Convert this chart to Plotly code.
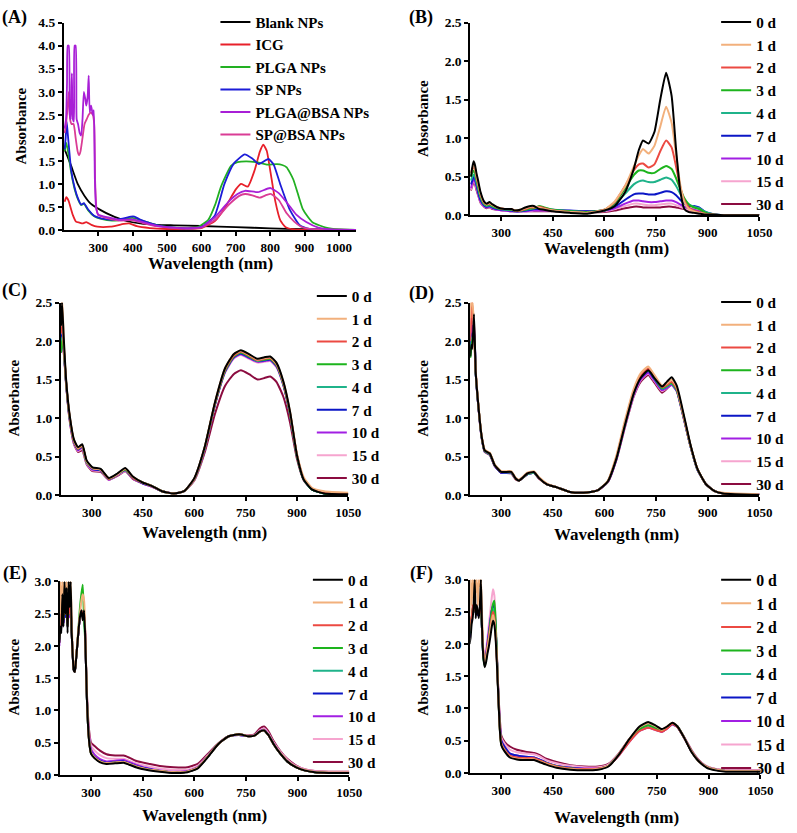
import plotly.graph_objects as go

W, H = 797, 833
FONT = "Liberation Serif, Times New Roman, serif"


def px(X):
    return X / W


def py(Y):
    return 1 - Y / H


# ---------------- Panel A data ----------------
A_names = ["Blank NPs", "ICG", "PLGA NPs", "SP NPs", "PLGA@BSA NPs", "SP@BSA NPs"]
A_colors = ["#000000", "#E8202A", "#22B022", "#1C1CD8", "#A81FD6", "#DA3C95"]

A_blank_wl = [202, 210, 221, 240, 259, 278, 307, 336, 374, 422, 470, 520, 600, 700, 800, 900, 1000, 1050]
A_blank = [1.75, 1.60, 1.39, 1.00, 0.75, 0.57, 0.43, 0.32, 0.21, 0.14, 0.11, 0.10, 0.085, 0.06, 0.035, 0.015, 0.005, 0.0]

A_icg_wl = [202, 207, 213, 226, 235, 245, 254, 265, 280, 297, 335, 374, 390, 412, 450, 500, 550, 600, 640, 670,
            700, 715, 735, 755, 770, 780, 790, 800, 815, 830, 845, 870, 900, 1050]
A_icg = [0.61, 0.71, 0.64, 0.32, 0.18, 0.16, 0.14, 0.17, 0.11, 0.07, 0.07, 0.13, 0.14, 0.08, 0.04, 0.02, 0.02, 0.04, 0.20, 0.50,
         0.88, 1.00, 0.94, 1.30, 1.70, 1.85, 1.72, 1.30, 0.62, 0.20, 0.06, 0.01, 0.0, 0.0]

A_plga_wl = [202, 207, 214, 221, 231, 240, 250, 258, 270, 289, 308, 340, 366, 400, 420, 450, 480, 520, 560, 590,
             620, 640, 657, 686, 705, 730, 760, 790, 820, 835, 848, 867, 880, 895, 910, 924, 962, 1000, 1050]
A_plga = [1.71, 1.89, 1.60, 1.25, 0.89, 0.68, 0.54, 0.57, 0.43, 0.29, 0.24, 0.20, 0.22, 0.26, 0.22, 0.15, 0.09, 0.05, 0.04, 0.06,
          0.22, 0.55, 0.94, 1.39, 1.47, 1.49, 1.47, 1.42, 1.43, 1.41, 1.36, 1.10, 0.80, 0.45, 0.28, 0.16, 0.05, 0.01, 0.0]

A_sp_wl = [202, 205, 208, 211, 214, 221, 231, 240, 250, 258, 270, 289, 308, 340, 366, 395, 405, 420, 450, 480,
           520, 560, 600, 638, 667, 695, 726, 748, 767, 795, 810, 829, 857, 886, 914, 950, 1050]
A_sp = [1.75, 2.00, 2.35, 2.10, 1.85, 1.30, 0.92, 0.70, 0.55, 0.58, 0.45, 0.30, 0.25, 0.22, 0.24, 0.29, 0.29, 0.23, 0.15, 0.09,
        0.05, 0.03, 0.06, 0.30, 1.00, 1.45, 1.64, 1.55, 1.43, 1.54, 1.42, 1.00, 0.44, 0.10, 0.02, 0.0, 0.0]

A_plgabsa_wl = [202, 206, 209, 211, 214, 217, 220, 223, 226, 229, 231, 234, 237, 241, 246, 250, 254, 258, 262, 265,
                269, 272, 275, 279, 284, 287, 290, 294, 300, 330, 360, 400, 430, 470, 520, 570, 600, 640, 680, 705,
                727, 765, 800, 825, 850, 876, 905, 940, 980, 1050]
A_plgabsa = [2.20, 2.40, 3.20, 4.00, 4.00, 2.50, 2.40, 3.40, 2.40, 2.35, 4.00, 4.00, 2.40, 2.30, 2.10, 2.05, 2.40, 3.00, 2.85, 2.70,
             2.90, 3.35, 2.56, 2.70, 2.50, 2.60, 1.10, 0.45, 0.33, 0.27, 0.22, 0.23, 0.17, 0.09, 0.05, 0.04, 0.06, 0.28, 0.62, 0.78,
             0.85, 0.82, 0.91, 0.80, 0.58, 0.33, 0.17, 0.05, 0.01, 0.0]

A_spbsa_wl = [202, 206, 210, 214, 218, 222, 228, 234, 240, 244, 248, 254, 260, 266, 272, 278, 284, 288, 291, 295,
              300, 330, 360, 400, 430, 470, 520, 570, 600, 640, 680, 710, 727, 748, 770, 790, 803, 825, 848, 870,
              890, 910, 950, 1050]
A_spbsa = [2.10, 2.30, 2.60, 3.00, 2.40, 2.30, 2.30, 2.00, 1.70, 1.62, 1.70, 2.00, 2.30, 2.40, 2.50, 2.55, 2.50, 2.30, 1.00, 0.45,
           0.32, 0.25, 0.20, 0.21, 0.15, 0.08, 0.04, 0.03, 0.05, 0.22, 0.55, 0.74, 0.78, 0.75, 0.70, 0.76, 0.78, 0.65, 0.36, 0.18,
           0.07, 0.03, 0.01, 0.0]

# ---------------- Day series (panels B-F) ----------------
DAYS = ["0 d", "1 d", "2 d", "3 d", "4 d", "7 d", "10 d", "15 d", "30 d"]
DAY_COLORS = ["#000000", "#F2B07C", "#EC4A42", "#1DB41D", "#1FB38A", "#0B16C6", "#A21FE3", "#F6A5CF", "#8B0C40"]

B_wl = [212, 216, 220, 224, 228, 233, 240, 250, 258, 266, 275, 290, 310, 330, 340, 355, 370, 385, 395, 410,
        425, 450, 500, 550, 600, 630, 660, 685, 700, 712, 728, 745, 762, 779, 795, 808, 820, 832, 845, 860,
        875, 890, 910, 950, 1050]
B_0d = [0.50, 0.62, 0.70, 0.65, 0.55, 0.45, 0.30, 0.18, 0.15, 0.17, 0.14, 0.10, 0.08, 0.08, 0.06, 0.07, 0.10, 0.12, 0.12, 0.08,
        0.07, 0.05, 0.03, 0.02, 0.06, 0.12, 0.30, 0.60, 0.85, 0.97, 0.93, 1.08, 1.50, 1.85, 1.55, 0.85, 0.32, 0.08, 0.04, 0.03,
        0.02, 0.01, 0.01, 0.00, 0.00]
B_1d = [0.55, 0.60, 0.65, 0.62, 0.52, 0.42, 0.28, 0.17, 0.14, 0.16, 0.13, 0.10, 0.08, 0.08, 0.06, 0.07, 0.09, 0.11, 0.11, 0.10,
        0.08, 0.06, 0.04, 0.03, 0.07, 0.18, 0.38, 0.63, 0.78, 0.86, 0.80, 0.90, 1.15, 1.41, 1.20, 0.78, 0.40, 0.17, 0.08, 0.05,
        0.03, 0.02, 0.01, 0.00, 0.00]
B_2d = [0.55, 0.60, 0.62, 0.60, 0.50, 0.40, 0.27, 0.16, 0.14, 0.15, 0.13, 0.10, 0.08, 0.08, 0.06, 0.06, 0.08, 0.10, 0.10, 0.11,
        0.09, 0.06, 0.04, 0.03, 0.07, 0.17, 0.38, 0.58, 0.66, 0.67, 0.62, 0.66, 0.83, 0.97, 0.88, 0.63, 0.37, 0.19, 0.10, 0.06,
        0.04, 0.02, 0.01, 0.00, 0.00]
B_3d = [0.50, 0.55, 0.58, 0.55, 0.47, 0.37, 0.25, 0.15, 0.13, 0.14, 0.12, 0.09, 0.08, 0.07, 0.06, 0.06, 0.07, 0.09, 0.09, 0.12,
        0.10, 0.07, 0.05, 0.04, 0.07, 0.16, 0.35, 0.52, 0.58, 0.58, 0.55, 0.55, 0.60, 0.64, 0.60, 0.48, 0.34, 0.22, 0.14, 0.10,
        0.08, 0.04, 0.01, 0.00, 0.00]
B_4d = [0.45, 0.50, 0.53, 0.50, 0.43, 0.34, 0.23, 0.14, 0.12, 0.13, 0.11, 0.09, 0.07, 0.07, 0.06, 0.06, 0.07, 0.08, 0.09, 0.10,
        0.09, 0.07, 0.05, 0.04, 0.06, 0.14, 0.28, 0.40, 0.44, 0.45, 0.43, 0.43, 0.46, 0.49, 0.46, 0.38, 0.28, 0.20, 0.14, 0.11,
        0.09, 0.05, 0.02, 0.00, 0.00]
B_7d = [0.40, 0.45, 0.50, 0.47, 0.40, 0.30, 0.20, 0.13, 0.11, 0.12, 0.10, 0.08, 0.07, 0.06, 0.05, 0.05, 0.06, 0.07, 0.08, 0.08,
        0.08, 0.07, 0.06, 0.05, 0.06, 0.11, 0.20, 0.27, 0.28, 0.28, 0.27, 0.27, 0.29, 0.31, 0.30, 0.26, 0.20, 0.15, 0.12, 0.12,
        0.10, 0.05, 0.02, 0.00, 0.00]
B_10d = [0.35, 0.42, 0.47, 0.44, 0.37, 0.28, 0.18, 0.12, 0.10, 0.11, 0.09, 0.07, 0.06, 0.05, 0.05, 0.05, 0.05, 0.06, 0.06, 0.06,
         0.06, 0.06, 0.05, 0.05, 0.06, 0.09, 0.15, 0.19, 0.19, 0.18, 0.17, 0.17, 0.18, 0.19, 0.19, 0.17, 0.14, 0.11, 0.09, 0.07,
         0.05, 0.03, 0.01, 0.00, 0.00]
B_15d = [0.33, 0.40, 0.45, 0.42, 0.35, 0.27, 0.17, 0.11, 0.10, 0.10, 0.09, 0.07, 0.06, 0.05, 0.05, 0.05, 0.05, 0.05, 0.06, 0.06,
         0.06, 0.06, 0.05, 0.05, 0.05, 0.08, 0.12, 0.15, 0.15, 0.14, 0.13, 0.13, 0.14, 0.15, 0.15, 0.13, 0.11, 0.09, 0.07, 0.05,
         0.04, 0.02, 0.01, 0.00, 0.00]
B_30d = [0.32, 0.38, 0.43, 0.40, 0.33, 0.26, 0.16, 0.11, 0.09, 0.10, 0.08, 0.07, 0.06, 0.05, 0.05, 0.05, 0.05, 0.05, 0.05, 0.05,
         0.05, 0.05, 0.05, 0.04, 0.04, 0.06, 0.09, 0.11, 0.11, 0.10, 0.10, 0.10, 0.10, 0.11, 0.11, 0.10, 0.09, 0.08, 0.06, 0.05,
         0.04, 0.02, 0.01, 0.00, 0.00]

C_wl = [210, 213, 218, 225, 235, 248, 260, 272, 285, 302, 326, 350, 375, 398, 420, 450, 475, 505, 540, 570,
        600, 630, 660, 690, 715, 736, 760, 785, 805, 822, 840, 860, 880, 900, 920, 945, 980, 1050]
C_0d = [2.20, 2.50, 2.05, 1.50, 1.05, 0.72, 0.62, 0.66, 0.45, 0.36, 0.34, 0.22, 0.28, 0.35, 0.24, 0.16, 0.12, 0.05, 0.02, 0.05,
        0.22, 0.62, 1.20, 1.65, 1.83, 1.88, 1.83, 1.77, 1.79, 1.80, 1.72, 1.48, 1.08, 0.52, 0.20, 0.07, 0.02, 0.01]
C_1d = [2.50, 2.50, 2.00, 1.48, 1.04, 0.71, 0.61, 0.65, 0.44, 0.35, 0.33, 0.22, 0.27, 0.34, 0.24, 0.16, 0.12, 0.05, 0.02, 0.05,
        0.22, 0.62, 1.20, 1.65, 1.83, 1.87, 1.82, 1.76, 1.78, 1.79, 1.71, 1.47, 1.08, 0.54, 0.23, 0.09, 0.05, 0.03]
C_2d = [2.10, 2.20, 1.95, 1.47, 1.03, 0.70, 0.60, 0.64, 0.44, 0.35, 0.33, 0.21, 0.27, 0.34, 0.23, 0.16, 0.12, 0.05, 0.02, 0.05,
        0.21, 0.61, 1.19, 1.63, 1.81, 1.86, 1.81, 1.75, 1.77, 1.78, 1.70, 1.46, 1.06, 0.52, 0.21, 0.08, 0.03, 0.02]
C_3d = [1.85, 2.00, 1.90, 1.46, 1.02, 0.70, 0.60, 0.64, 0.43, 0.35, 0.33, 0.21, 0.27, 0.33, 0.23, 0.16, 0.12, 0.05, 0.02, 0.05,
        0.21, 0.61, 1.18, 1.62, 1.80, 1.85, 1.80, 1.75, 1.76, 1.77, 1.69, 1.45, 1.05, 0.51, 0.20, 0.07, 0.02, 0.01]
C_4d = [1.90, 2.05, 1.90, 1.46, 1.02, 0.70, 0.60, 0.64, 0.43, 0.35, 0.33, 0.21, 0.27, 0.33, 0.23, 0.16, 0.12, 0.05, 0.02, 0.05,
        0.21, 0.61, 1.18, 1.62, 1.80, 1.85, 1.80, 1.74, 1.76, 1.77, 1.69, 1.45, 1.05, 0.51, 0.20, 0.07, 0.02, 0.01]
C_7d = [1.95, 2.10, 1.90, 1.45, 1.01, 0.69, 0.59, 0.63, 0.43, 0.34, 0.32, 0.21, 0.27, 0.33, 0.23, 0.15, 0.12, 0.05, 0.02, 0.05,
        0.21, 0.60, 1.17, 1.61, 1.79, 1.84, 1.79, 1.74, 1.75, 1.76, 1.68, 1.44, 1.04, 0.51, 0.20, 0.07, 0.02, 0.01]
C_10d = [1.85, 2.00, 1.88, 1.45, 1.00, 0.68, 0.58, 0.62, 0.42, 0.33, 0.32, 0.20, 0.26, 0.32, 0.22, 0.15, 0.11, 0.05, 0.02, 0.05,
         0.21, 0.60, 1.17, 1.60, 1.78, 1.83, 1.78, 1.73, 1.74, 1.75, 1.67, 1.43, 1.04, 0.51, 0.20, 0.07, 0.02, 0.01]
C_15d = [1.85, 1.95, 1.85, 1.44, 0.99, 0.67, 0.57, 0.60, 0.41, 0.32, 0.31, 0.20, 0.26, 0.31, 0.22, 0.15, 0.11, 0.05, 0.02, 0.05,
         0.20, 0.59, 1.16, 1.59, 1.77, 1.82, 1.77, 1.72, 1.73, 1.74, 1.66, 1.43, 1.05, 0.52, 0.21, 0.08, 0.03, 0.02]
C_30d = [1.85, 1.95, 1.85, 1.43, 0.98, 0.66, 0.56, 0.58, 0.40, 0.31, 0.30, 0.20, 0.25, 0.31, 0.21, 0.15, 0.11, 0.05, 0.02, 0.05,
         0.19, 0.55, 1.05, 1.42, 1.57, 1.62, 1.57, 1.50, 1.52, 1.54, 1.47, 1.28, 0.94, 0.47, 0.19, 0.07, 0.02, 0.01]

D_wl = [210, 213, 216, 221, 226, 233, 243, 252, 267, 281, 300, 329, 343, 352, 376, 395, 410, 433, 462, 500,
        540, 580, 610, 635, 660, 685, 705, 727, 745, 767, 781, 795, 810, 830, 850, 870, 895, 920, 945, 980, 1050]
D_0d = [1.80, 1.95, 1.90, 2.35, 1.60, 1.20, 0.77, 0.58, 0.54, 0.39, 0.30, 0.30, 0.21, 0.19, 0.28, 0.30, 0.22, 0.14, 0.10, 0.04,
        0.03, 0.06, 0.18, 0.48, 0.92, 1.32, 1.52, 1.62, 1.52, 1.41, 1.47, 1.53, 1.42, 1.05, 0.65, 0.34, 0.14, 0.05, 0.02, 0.01, 0.00]
D_1d = [2.30, 2.50, 2.50, 2.20, 1.62, 1.22, 0.78, 0.59, 0.55, 0.40, 0.31, 0.31, 0.22, 0.20, 0.29, 0.31, 0.23, 0.15, 0.10, 0.04,
        0.03, 0.06, 0.19, 0.52, 0.98, 1.38, 1.58, 1.67, 1.56, 1.42, 1.45, 1.50, 1.40, 1.03, 0.64, 0.34, 0.14, 0.05, 0.03, 0.02, 0.01]
D_2d = [2.00, 2.30, 2.50, 2.10, 1.60, 1.20, 0.77, 0.58, 0.54, 0.39, 0.30, 0.30, 0.21, 0.19, 0.28, 0.30, 0.22, 0.14, 0.10, 0.04,
        0.03, 0.06, 0.18, 0.50, 0.95, 1.35, 1.55, 1.64, 1.54, 1.40, 1.43, 1.47, 1.38, 1.02, 0.64, 0.34, 0.14, 0.05, 0.02, 0.01, 0.00]
D_3d = [1.78, 1.90, 2.00, 2.05, 1.58, 1.19, 0.76, 0.58, 0.54, 0.39, 0.30, 0.30, 0.21, 0.19, 0.28, 0.30, 0.22, 0.14, 0.10, 0.04,
        0.03, 0.06, 0.18, 0.49, 0.94, 1.34, 1.54, 1.63, 1.53, 1.39, 1.42, 1.46, 1.37, 1.02, 0.64, 0.34, 0.14, 0.05, 0.02, 0.01, 0.00]
D_4d = [1.80, 1.95, 2.05, 2.05, 1.58, 1.19, 0.76, 0.57, 0.53, 0.39, 0.30, 0.29, 0.21, 0.19, 0.27, 0.29, 0.22, 0.14, 0.10, 0.04,
        0.03, 0.06, 0.18, 0.49, 0.93, 1.33, 1.53, 1.62, 1.52, 1.38, 1.41, 1.45, 1.36, 1.01, 0.63, 0.33, 0.14, 0.05, 0.02, 0.01, 0.00]
D_7d = [1.85, 2.00, 2.10, 2.10, 1.58, 1.19, 0.76, 0.57, 0.53, 0.38, 0.29, 0.29, 0.21, 0.19, 0.27, 0.29, 0.22, 0.14, 0.10, 0.04,
        0.03, 0.06, 0.18, 0.48, 0.93, 1.33, 1.52, 1.61, 1.51, 1.38, 1.41, 1.45, 1.36, 1.01, 0.63, 0.33, 0.14, 0.05, 0.02, 0.01, 0.01]
D_10d = [1.85, 2.00, 2.20, 2.15, 1.58, 1.18, 0.75, 0.57, 0.53, 0.38, 0.29, 0.29, 0.21, 0.19, 0.27, 0.29, 0.22, 0.14, 0.10, 0.04,
         0.03, 0.06, 0.17, 0.47, 0.91, 1.30, 1.50, 1.59, 1.49, 1.36, 1.39, 1.43, 1.35, 1.00, 0.63, 0.33, 0.14, 0.05, 0.02, 0.01, 0.01]
D_15d = [1.85, 2.05, 2.25, 2.20, 1.59, 1.18, 0.75, 0.57, 0.53, 0.38, 0.29, 0.29, 0.21, 0.19, 0.27, 0.29, 0.22, 0.14, 0.10, 0.04,
         0.03, 0.06, 0.17, 0.47, 0.90, 1.29, 1.49, 1.58, 1.48, 1.35, 1.39, 1.44, 1.35, 1.00, 0.63, 0.33, 0.14, 0.05, 0.02, 0.01, 0.01]
D_30d = [1.80, 1.95, 2.10, 2.15, 1.58, 1.18, 0.75, 0.56, 0.52, 0.38, 0.29, 0.28, 0.20, 0.19, 0.27, 0.29, 0.21, 0.14, 0.10, 0.04,
         0.03, 0.06, 0.17, 0.46, 0.89, 1.28, 1.47, 1.56, 1.46, 1.33, 1.38, 1.44, 1.35, 1.00, 0.63, 0.33, 0.14, 0.05, 0.02, 0.01, 0.01]

E_wl = [208, 211, 214, 217, 220, 223, 226, 229, 232, 235, 238, 241, 244, 247, 250, 253, 256, 260, 264, 268,
        272, 276, 280, 284, 288, 292, 296, 300, 310, 325, 345, 370, 395, 410, 430, 460, 500, 540, 580, 610,
        640, 670, 700, 730, 757, 775, 790, 803, 815, 830, 850, 870, 895, 920, 950, 990, 1050]
E_0d = [2.05, 2.30, 2.20, 2.80, 2.30, 3.00, 2.50, 2.90, 2.20, 3.00, 2.60, 3.00, 2.20, 1.85, 1.62, 1.60, 1.75, 2.00, 2.25, 2.45,
        2.55, 2.40, 2.55, 2.00, 1.20, 0.70, 0.45, 0.33, 0.26, 0.20, 0.17, 0.18, 0.19, 0.16, 0.12, 0.08, 0.05, 0.03, 0.04, 0.10,
        0.28, 0.48, 0.60, 0.63, 0.60, 0.61, 0.67, 0.69, 0.62, 0.48, 0.33, 0.21, 0.12, 0.07, 0.04, 0.03, 0.03]
E_1d = [2.20, 3.00, 2.50, 3.00, 2.60, 3.00, 2.70, 3.00, 2.50, 3.00, 2.80, 3.00, 2.40, 1.90, 1.65, 1.62, 1.80, 2.05, 2.30, 2.50,
        2.70, 2.80, 2.70, 2.10, 1.25, 0.72, 0.47, 0.35, 0.27, 0.21, 0.18, 0.19, 0.20, 0.17, 0.13, 0.09, 0.06, 0.04, 0.05, 0.11,
        0.29, 0.48, 0.60, 0.63, 0.60, 0.61, 0.67, 0.69, 0.62, 0.48, 0.34, 0.22, 0.13, 0.08, 0.05, 0.04, 0.04]
E_2d = [2.10, 2.50, 2.30, 2.70, 2.40, 2.80, 2.50, 2.70, 2.30, 2.80, 2.50, 2.70, 2.20, 1.85, 1.63, 1.60, 1.76, 2.00, 2.25, 2.45,
        2.55, 2.50, 2.50, 2.00, 1.20, 0.70, 0.46, 0.34, 0.27, 0.21, 0.18, 0.19, 0.20, 0.17, 0.13, 0.09, 0.06, 0.04, 0.05, 0.11,
        0.29, 0.48, 0.60, 0.63, 0.60, 0.61, 0.67, 0.69, 0.62, 0.48, 0.33, 0.21, 0.12, 0.07, 0.04, 0.03, 0.03]
E_3d = [2.10, 2.40, 2.30, 2.60, 2.40, 2.70, 2.50, 2.60, 2.30, 2.70, 2.50, 2.60, 2.20, 1.85, 1.63, 1.60, 1.76, 2.00, 2.30, 2.60,
        2.80, 2.95, 2.40, 2.00, 1.20, 0.70, 0.46, 0.34, 0.27, 0.21, 0.18, 0.19, 0.20, 0.17, 0.13, 0.09, 0.06, 0.04, 0.05, 0.11,
        0.29, 0.48, 0.60, 0.63, 0.60, 0.61, 0.67, 0.69, 0.62, 0.48, 0.33, 0.21, 0.12, 0.07, 0.04, 0.03, 0.03]
E_4d = [2.10, 2.40, 2.30, 2.60, 2.40, 2.60, 2.50, 2.60, 2.30, 2.60, 2.50, 2.60, 2.20, 1.85, 1.63, 1.60, 1.76, 2.00, 2.25, 2.45,
        2.55, 2.50, 2.45, 2.00, 1.20, 0.70, 0.46, 0.34, 0.27, 0.21, 0.18, 0.19, 0.20, 0.17, 0.13, 0.09, 0.06, 0.04, 0.05, 0.11,
        0.29, 0.48, 0.60, 0.63, 0.60, 0.61, 0.67, 0.69, 0.62, 0.48, 0.33, 0.21, 0.12, 0.07, 0.04, 0.03, 0.03]
E_7d = [2.10, 2.40, 2.30, 2.60, 2.35, 2.60, 2.45, 2.60, 2.30, 2.60, 2.50, 2.60, 2.20, 1.85, 1.63, 1.60, 1.76, 2.00, 2.25, 2.45,
        2.55, 2.45, 2.45, 2.00, 1.20, 0.72, 0.48, 0.36, 0.28, 0.22, 0.19, 0.20, 0.21, 0.18, 0.14, 0.10, 0.06, 0.04, 0.05, 0.11,
        0.29, 0.48, 0.60, 0.62, 0.60, 0.61, 0.67, 0.69, 0.62, 0.48, 0.33, 0.21, 0.12, 0.07, 0.04, 0.03, 0.03]
E_10d = [2.00, 2.30, 2.30, 2.50, 2.35, 2.55, 2.45, 2.55, 2.30, 2.55, 2.45, 2.55, 2.20, 1.85, 1.63, 1.60, 1.76, 2.00, 2.25, 2.45,
         2.55, 2.45, 2.45, 2.00, 1.22, 0.76, 0.52, 0.40, 0.32, 0.25, 0.21, 0.22, 0.23, 0.20, 0.16, 0.11, 0.07, 0.05, 0.06, 0.12,
         0.30, 0.48, 0.60, 0.62, 0.60, 0.61, 0.68, 0.70, 0.63, 0.49, 0.34, 0.22, 0.13, 0.08, 0.05, 0.04, 0.04]
E_15d = [2.05, 2.30, 2.30, 2.50, 2.35, 2.55, 2.45, 2.55, 2.30, 2.55, 2.45, 2.55, 2.20, 1.85, 1.63, 1.60, 1.76, 2.00, 2.25, 2.45,
         2.55, 2.45, 2.45, 2.00, 1.25, 0.80, 0.57, 0.45, 0.38, 0.31, 0.26, 0.25, 0.25, 0.22, 0.18, 0.14, 0.10, 0.08, 0.08, 0.14,
         0.31, 0.48, 0.60, 0.62, 0.60, 0.62, 0.69, 0.72, 0.65, 0.51, 0.36, 0.24, 0.14, 0.09, 0.06, 0.05, 0.05]
E_30d = [2.05, 2.30, 2.30, 2.50, 2.35, 2.55, 2.45, 2.55, 2.30, 2.55, 2.45, 2.55, 2.20, 1.85, 1.63, 1.60, 1.76, 2.00, 2.25, 2.45,
         2.55, 2.45, 2.45, 2.00, 1.28, 0.85, 0.62, 0.50, 0.45, 0.38, 0.32, 0.30, 0.30, 0.27, 0.22, 0.18, 0.14, 0.12, 0.12, 0.17,
         0.33, 0.49, 0.60, 0.63, 0.61, 0.63, 0.72, 0.75, 0.68, 0.53, 0.37, 0.25, 0.15, 0.09, 0.06, 0.05, 0.05]

F_wl = [208, 211, 214, 217, 220, 223, 226, 229, 232, 235, 238, 241, 244, 248, 252, 256, 260, 264, 268, 272,
        276, 280, 284, 288, 292, 296, 300, 310, 325, 345, 370, 395, 410, 430, 460, 500, 540, 580, 610, 640,
        670, 700, 725, 745, 765, 780, 795, 810, 830, 850, 870, 895, 920, 950, 990, 1050]
F_0d = [2.00, 2.10, 2.30, 2.40, 2.60, 3.00, 2.40, 2.60, 2.50, 2.40, 2.60, 3.00, 2.30, 1.80, 1.64, 1.72, 1.85, 1.96, 2.10, 2.25,
        2.36, 2.30, 2.05, 1.60, 1.10, 0.65, 0.43, 0.33, 0.24, 0.21, 0.20, 0.20, 0.17, 0.13, 0.08, 0.05, 0.04, 0.05, 0.10, 0.28,
        0.52, 0.72, 0.79, 0.74, 0.68, 0.72, 0.78, 0.72, 0.54, 0.33, 0.19, 0.08, 0.04, 0.02, 0.02, 0.02]
F_1d = [2.40, 3.00, 2.60, 3.00, 2.70, 3.00, 2.80, 3.00, 2.60, 3.00, 2.90, 3.00, 2.50, 1.90, 1.70, 1.78, 1.92, 2.05, 2.20, 2.35,
        2.45, 2.35, 2.10, 1.65, 1.12, 0.66, 0.44, 0.34, 0.25, 0.22, 0.21, 0.21, 0.18, 0.14, 0.09, 0.06, 0.05, 0.06, 0.11, 0.29,
        0.52, 0.71, 0.77, 0.73, 0.67, 0.72, 0.78, 0.72, 0.54, 0.34, 0.19, 0.09, 0.05, 0.03, 0.03, 0.03]
F_2d = [2.20, 2.40, 2.40, 2.60, 2.50, 2.70, 2.50, 2.60, 2.50, 2.50, 2.50, 2.70, 2.30, 1.85, 1.70, 1.80, 1.95, 2.10, 2.25, 2.40,
        2.50, 2.40, 2.10, 1.65, 1.12, 0.68, 0.46, 0.36, 0.27, 0.24, 0.23, 0.23, 0.20, 0.15, 0.10, 0.07, 0.06, 0.07, 0.11, 0.27,
        0.48, 0.65, 0.70, 0.67, 0.64, 0.69, 0.76, 0.71, 0.54, 0.34, 0.19, 0.09, 0.05, 0.03, 0.03, 0.03]
F_3d = [2.15, 2.40, 2.40, 2.55, 2.50, 2.65, 2.50, 2.55, 2.50, 2.50, 2.50, 2.60, 2.25, 1.80, 1.66, 1.75, 1.92, 2.10, 2.30, 2.50,
        2.62, 2.67, 2.30, 1.70, 1.12, 0.67, 0.45, 0.35, 0.26, 0.23, 0.22, 0.22, 0.19, 0.15, 0.10, 0.07, 0.06, 0.06, 0.11, 0.28,
        0.50, 0.68, 0.74, 0.70, 0.66, 0.70, 0.77, 0.72, 0.54, 0.34, 0.19, 0.09, 0.05, 0.03, 0.03, 0.03]
F_4d = [2.15, 2.40, 2.40, 2.55, 2.50, 2.60, 2.50, 2.55, 2.50, 2.50, 2.50, 2.60, 2.25, 1.80, 1.68, 1.78, 1.95, 2.10, 2.28, 2.45,
        2.55, 2.50, 2.20, 1.68, 1.12, 0.67, 0.45, 0.35, 0.26, 0.23, 0.22, 0.22, 0.19, 0.15, 0.10, 0.07, 0.06, 0.06, 0.11, 0.28,
        0.50, 0.68, 0.74, 0.70, 0.66, 0.70, 0.77, 0.72, 0.54, 0.34, 0.19, 0.09, 0.05, 0.03, 0.03, 0.03]
F_7d = [2.10, 2.35, 2.40, 2.50, 2.50, 2.60, 2.50, 2.55, 2.45, 2.50, 2.50, 2.60, 2.25, 1.80, 1.70, 1.80, 1.98, 2.15, 2.32, 2.50,
        2.60, 2.55, 2.20, 1.68, 1.14, 0.72, 0.50, 0.40, 0.30, 0.27, 0.25, 0.24, 0.21, 0.16, 0.11, 0.08, 0.06, 0.06, 0.11, 0.28,
        0.50, 0.69, 0.75, 0.71, 0.66, 0.70, 0.76, 0.71, 0.54, 0.34, 0.19, 0.09, 0.05, 0.03, 0.03, 0.03]
F_10d = [2.10, 2.35, 2.40, 2.50, 2.50, 2.60, 2.50, 2.55, 2.45, 2.50, 2.50, 2.60, 2.25, 1.85, 1.75, 1.85, 2.02, 2.20, 2.38, 2.52,
         2.57, 2.50, 2.20, 1.70, 1.15, 0.73, 0.50, 0.40, 0.30, 0.27, 0.25, 0.24, 0.21, 0.16, 0.11, 0.08, 0.07, 0.07, 0.11, 0.27,
         0.48, 0.65, 0.70, 0.67, 0.64, 0.69, 0.75, 0.71, 0.54, 0.34, 0.19, 0.09, 0.05, 0.03, 0.03, 0.03]
F_15d = [2.10, 2.35, 2.40, 2.50, 2.50, 2.60, 2.50, 2.55, 2.45, 2.50, 2.50, 2.60, 2.25, 1.90, 1.80, 1.92, 2.10, 2.30, 2.50, 2.70,
         2.85, 2.75, 2.30, 1.75, 1.18, 0.78, 0.55, 0.45, 0.36, 0.32, 0.30, 0.29, 0.26, 0.20, 0.15, 0.11, 0.09, 0.09, 0.13, 0.29,
         0.50, 0.66, 0.71, 0.68, 0.64, 0.69, 0.76, 0.72, 0.55, 0.35, 0.20, 0.10, 0.06, 0.04, 0.04, 0.04]
F_30d = [2.10, 2.35, 2.40, 2.50, 2.50, 2.60, 2.50, 2.55, 2.45, 2.50, 2.50, 2.60, 2.25, 1.85, 1.72, 1.82, 2.00, 2.18, 2.35, 2.48,
         2.52, 2.45, 2.20, 1.72, 1.20, 0.82, 0.58, 0.48, 0.41, 0.36, 0.33, 0.31, 0.28, 0.22, 0.17, 0.12, 0.10, 0.10, 0.14, 0.30,
         0.52, 0.66, 0.71, 0.68, 0.64, 0.69, 0.76, 0.72, 0.55, 0.36, 0.21, 0.10, 0.06, 0.04, 0.04, 0.04]

# ticks
A_xticks = [300, 400, 500, 600, 700, 800, 900, 1000]
BF_xticks = [300, 450, 600, 750, 900, 1050]
A_yticks = [0.0, 0.5, 1.0, 1.5, 2.0, 2.5, 3.0, 3.5, 4.0, 4.5]
BCD_yticks = [0.0, 0.5, 1.0, 1.5, 2.0, 2.5]
EF_yticks = [0.0, 0.5, 1.0, 1.5, 2.0, 2.5, 3.0]

# ---------------- layout geometry (page pixels) ----------------
# leg = (left x of legend text, centre y of first legend item), legend font size
panels = [
    dict(label="(A)", x=(65, 362), y=(16, 227), xr=[200, 1050], yr=[0, 4.5], xt=A_xticks, yt=A_yticks,
         lab=(15, 11), yt_pos=(21, 121), xt_pos=(214, 261), leg=(259, 15), lfs=15),
    dict(label="(B)", x=(478, 772), y=(16, 212), xr=[210, 1050], yr=[0, 2.5], xt=BF_xticks, yt=BCD_yticks,
         lab=(428, 11), yt_pos=(430, 113), xt_pos=(617, 246), leg=(768, 15), lfs=15.2),
    dict(label="(C)", x=(62, 354), y=(301, 497), xr=[210, 1050], yr=[0, 2.5], xt=BF_xticks, yt=BCD_yticks,
         lab=(15, 289), yt_pos=(14, 398), xt_pos=(208, 535), leg=(357, 294), lfs=15.2),
    dict(label="(D)", x=(478, 772), y=(301, 497), xr=[210, 1050], yr=[0, 2.5], xt=BF_xticks, yt=BCD_yticks,
         lab=(428, 292), yt_pos=(430, 398), xt_pos=(627, 537), leg=(768, 300), lfs=15.2),
    dict(label="(E)", x=(61, 355), y=(585, 782), xr=[210, 1050], yr=[0, 3.0], xt=BF_xticks, yt=EF_yticks,
         lab=(15, 577), yt_pos=(14, 682), xt_pos=(208, 823), leg=(353, 583), lfs=15.2),
    dict(label="(F)", x=(478, 773), y=(583, 780), xr=[210, 1050], yr=[0, 3.0], xt=BF_xticks, yt=EF_yticks,
         lab=(428, 577), yt_pos=(430, 682), xt_pos=(627, 825), leg=(768, 583), lfs=15.8),
]

fig = go.Figure()
bold = dict(family=FONT, color="black", weight="bold")


def ax_ids(i):
    return ("x" if i == 1 else f"x{i}"), ("y" if i == 1 else f"y{i}"), ("legend" if i == 1 else f"legend{i}")


def add_line(i, wl, vals, name, color, rank, width):
    xa, ya, lg = ax_ids(i)
    fig.add_trace(go.Scatter(
        x=wl, y=vals, mode="lines", name=name, xaxis=xa, yaxis=ya, legend=lg, legendrank=rank,
        line=dict(color=color, width=width, shape="spline", smoothing=0.5),
        hoverinfo="skip"))


# Panel A
A_series = [(A_blank_wl, A_blank), (A_icg_wl, A_icg), (A_plga_wl, A_plga), (A_sp_wl, A_sp),
            (A_plgabsa_wl, A_plgabsa), (A_spbsa_wl, A_spbsa)]
for k in [0, 1, 2, 3, 5, 4]:
    wl, vals = A_series[k]
    add_line(1, wl, vals, A_names[k], A_colors[k], k + 1, 1.8)

day_panels = [
    (B_wl, [B_0d, B_1d, B_2d, B_3d, B_4d, B_7d, B_10d, B_15d, B_30d]),
    (C_wl, [C_0d, C_1d, C_2d, C_3d, C_4d, C_7d, C_10d, C_15d, C_30d]),
    (D_wl, [D_0d, D_1d, D_2d, D_3d, D_4d, D_7d, D_10d, D_15d, D_30d]),
    (E_wl, [E_0d, E_1d, E_2d, E_3d, E_4d, E_7d, E_10d, E_15d, E_30d]),
    (F_wl, [F_0d, F_1d, F_2d, F_3d, F_4d, F_7d, F_10d, F_15d, F_30d]),
]
for pi, (wl, series) in enumerate(day_panels, start=2):
    for k in range(len(DAYS) - 1, -1, -1):
        add_line(pi, wl, series[k], DAYS[k], DAY_COLORS[k], k + 1, 2.0)

layout = dict(width=W, height=H, margin=dict(l=0, r=0, t=0, b=0), autosize=False,
              paper_bgcolor="white", plot_bgcolor="white", font=dict(family=FONT, color="black"))
annotations = []
for i, p in enumerate(panels, start=1):
    xa_name = "xaxis" if i == 1 else f"xaxis{i}"
    ya_name = "yaxis" if i == 1 else f"yaxis{i}"
    xa, ya, _ = ax_ids(i)
    layout[xa_name] = dict(domain=[px(p["x"][0]), px(p["x"][1])], range=p["xr"], anchor=ya,
                           tickvals=p["xt"], ticks="outside", ticklen=4, tickwidth=2, tickcolor="black",
                           showline=True, linecolor="black", linewidth=2, showgrid=False, zeroline=False,
                           tickfont=dict(size=13, **bold))
    layout[ya_name] = dict(domain=[py(p["y"][1]), py(p["y"][0])], range=p["yr"], anchor=xa,
                           tickvals=p["yt"], tickformat=".1f", ticks="outside", ticklen=4, tickwidth=2,
                           tickcolor="black", showline=True, linecolor="black", linewidth=2, showgrid=False,
                           zeroline=False, tickfont=dict(size=13.5, **bold))
    lg = "legend" if i == 1 else f"legend{i}"
    item_h = p["lfs"] * 1.3 + 3
    layout[lg] = dict(x=px(p["leg"][0] - 40), y=py(p["leg"][1] - 5 - item_h / 2), xanchor="left", yanchor="top",
                      bgcolor="rgba(0,0,0,0)", borderwidth=0, font=dict(size=p["lfs"], **bold),
                      itemwidth=30, tracegroupgap=0)
    annotations.append(dict(text=p["label"], x=px(p["lab"][0]), y=py(p["lab"][1]), xref="paper", yref="paper",
                            showarrow=False, xanchor="center", yanchor="middle", font=dict(size=18, **bold)))
    annotations.append(dict(text="Absorbance", x=px(p["yt_pos"][0]), y=py(p["yt_pos"][1]), xref="paper",
                            yref="paper", showarrow=False, textangle=-90, xanchor="center", yanchor="middle",
                            font=dict(size=15, **bold)))
    annotations.append(dict(text="Wavelength (nm)", x=px(p["xt_pos"][0]), y=py(p["xt_pos"][1]), xref="paper",
                            yref="paper", showarrow=False, xanchor="center", yanchor="middle",
                            font=dict(size=17, **bold)))
layout["annotations"] = annotations
layout["showlegend"] = True
fig.update_layout(**layout)

fig.write_html("out.html", config={"displayModeBar": False},
               post_script="document.body.style.margin='0';document.body.style.padding='0';"
                           "document.documentElement.style.overflow='hidden';")
